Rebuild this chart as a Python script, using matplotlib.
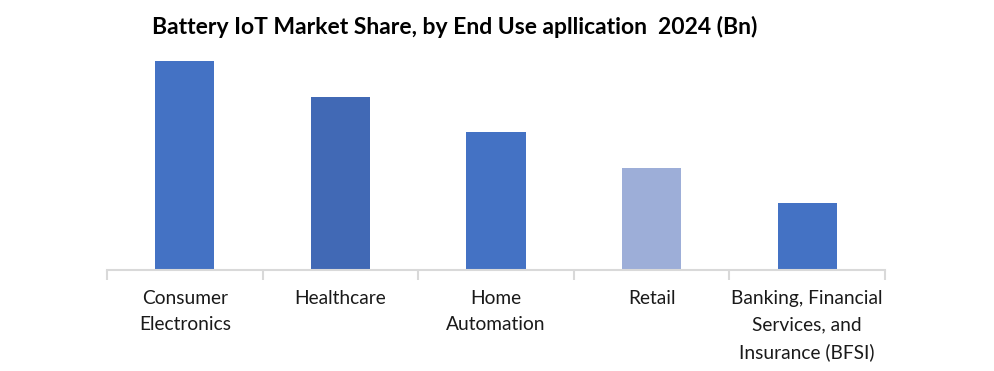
import matplotlib.pyplot as plt

# Werte (relative Balkenhoehen, Bn)
kategorien = ["Consumer\nElectronics", "Healthcare", "Home\nAutomation", "Retail",
              "Banking, Financial\nServices, and\nInsurance (BFSI)"]
werte = [4.18, 3.46, 2.76, 2.04, 1.34]
farben = ["#4472C4", "#4169B5", "#4472C4", "#9DAED8", "#4472C4"]

plt.rcParams['font.family'] = ['Lato', 'DejaVu Sans']

fig = plt.figure(figsize=(9.95, 3.71), dpi=100)
ax = fig.add_axes([107 / 995, 101 / 371, 778 / 995, 209 / 371])

x = list(range(len(werte)))
ax.bar(x, werte, width=0.38, color=farben, zorder=2)

ax.set_xlim(-0.5, len(werte) - 0.5)
ax.set_ylim(0, max(werte))
ax.set_yticks([])
for s in ["top", "right", "left"]:
    ax.spines[s].set_visible(False)
ax.spines["bottom"].set_color("#D9D9D9")
ax.spines["bottom"].set_linewidth(1.5)

ax.set_xticks(x)
ax.set_xticklabels(kategorien, fontsize=13.8, color="#1a1a1a", linespacing=1.65)
ax.tick_params(axis="x", which="major", length=0, pad=14.5)
ax.set_xticks([i - 0.5 for i in range(len(werte) + 1)], minor=True)
ax.tick_params(axis="x", which="minor", length=7, width=1.5, color="#D9D9D9")
for lab in ax.get_xticklabels():
    lab.set_verticalalignment("top")

fig.text(455 / 995, 1 - 27 / 371, "Battery IoT Market Share, by End Use apllication  2024 (Bn)",
         ha="center", va="center", fontsize=16.5, fontweight="bold", color="#000000")

fig.savefig("out.png", dpi=100)
